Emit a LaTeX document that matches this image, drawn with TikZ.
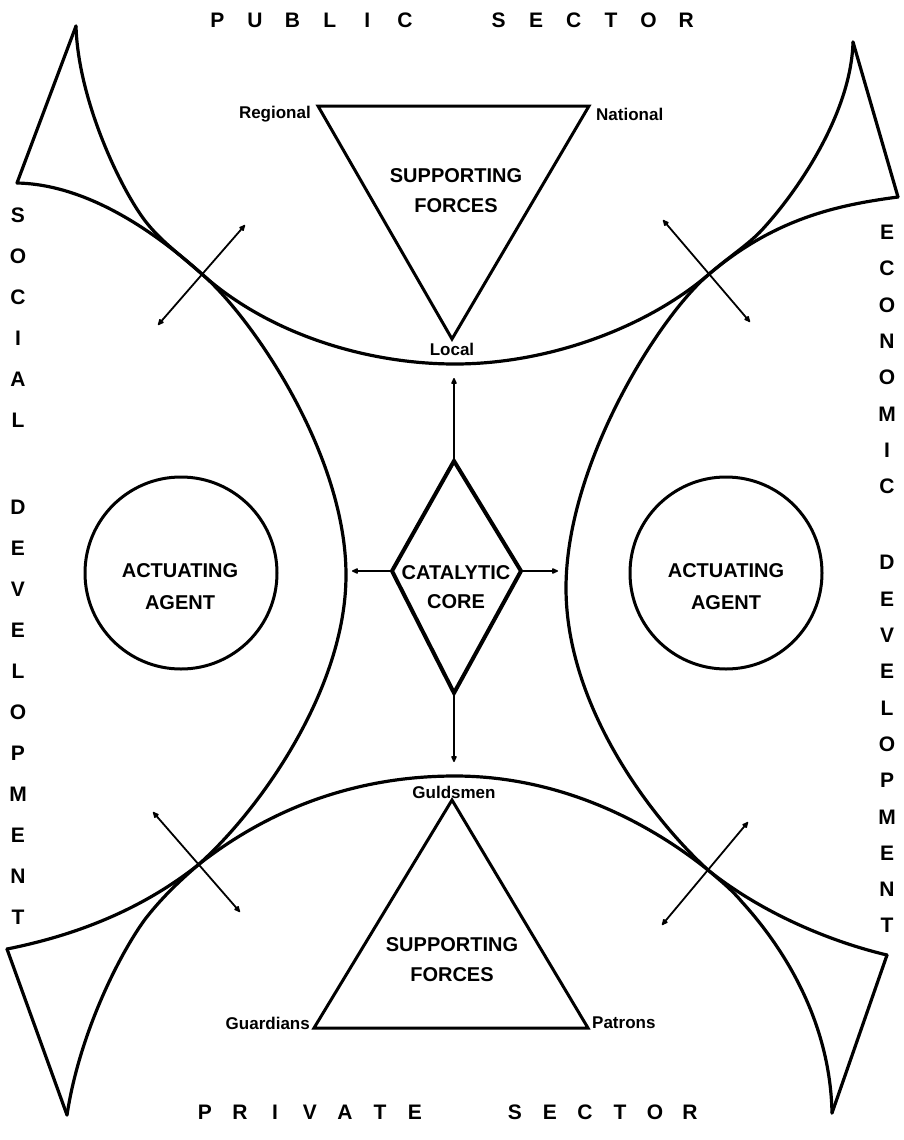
\documentclass[tikz,border=0pt]{standalone}
\usepackage{fontspec}
\setmainfont{Liberation Sans}
\usetikzlibrary{arrows.meta}
\newlength\letw
\newcommand\lbx[1]{\makebox[\letw]{#1}}
\begin{document}
\begin{tikzpicture}[x=1pt,y=-1pt,
  mytip/.tip={Latex[length=8pt,width=7pt,round]},
  curve/.style={line width=3.2pt,line cap=round,line join=round},
  tri/.style={line width=3pt,line join=miter},
  dia/.style={line width=4pt,line join=miter},
  ring/.style={circle,draw,line width=3pt,minimum size=192pt,inner sep=0pt},
  dbl/.style={line width=1.8pt,{mytip}-{mytip}},
  one/.style={line width=1.8pt,-{mytip}},
  caps/.style={font=\fontsize{20}{30}\selectfont\bfseries,align=center,inner sep=0pt},
  small/.style={font=\fontsize{17}{17}\selectfont\bfseries,inner sep=0pt},
  hdr/.style={font=\fontsize{21}{21}\selectfont\bfseries,inner sep=0pt},
  vert/.style={align=center,inner sep=0pt},
]
\useasboundingbox (0,0) rectangle (903,1140);
\fill[white] (0,0) rectangle (903,1140);

% ---- key points of the four sweeping curves
\coordinate (ATL) at (76,26);
\coordinate (ETL) at (17,183);
\coordinate (CTL) at (203,275);
\coordinate (ML)  at (346,575);
\coordinate (CBL) at (198,865);
\coordinate (ABL) at (67,1115);
\coordinate (EBL) at (7,949);
\coordinate (BT)  at (455,364);
\coordinate (ATR) at (853,42);
\coordinate (ETR) at (898,197);
\coordinate (CTR) at (708,275);
\coordinate (MR)  at (566,588);
\coordinate (CBR) at (708,870);
\coordinate (ABR) at (832,1113);
\coordinate (EBR) at (887,955);
\coordinate (BB)  at (455,776);

% left curve
\draw[curve] (ATL) .. controls (78,100) and (121,190) .. (146,222)
  .. controls (161,241) and (178,253) .. (CTL)
  .. controls (253,319) and (346,455) .. (ML)
  .. controls (346,690) and (258,812) .. (CBL)
  .. controls (176,884) and (161,899) .. (146,918)
  .. controls (122,950) and (80,1030) .. (ABL);
% right curve
\draw[curve] (ATR) .. controls (851,115) and (795,195) .. (760,232)
  .. controls (745,247) and (730,256) .. (CTR)
  .. controls (658,318) and (566,465) .. (MR)
  .. controls (566,705) and (650,817) .. (CBR)
  .. controls (722,882) and (732,890) .. (742,902)
  .. controls (772,935) and (830,1010) .. (ABR);
% top curve
\draw[curve] (ETL) .. controls (70,184) and (133,212) .. (CTL)
  .. controls (268,333) and (365,364) .. (BT)
  .. controls (545,364) and (643,330) .. (CTR)
  .. controls (775,218) and (838,205) .. (ETR);
% bottom curve
\draw[curve] (EBL) .. controls (67,937) and (136,914) .. (CBL)
  .. controls (273,806) and (360,776) .. (BB)
  .. controls (550,776) and (638,814) .. (CBR)
  .. controls (763,914) and (832,942) .. (EBR);
% straight corner edges
\draw[curve] (ATL) -- (ETL);
\draw[curve] (ATR) -- (ETR);
\draw[curve] (EBL) -- (ABL);
\draw[curve] (EBR) -- (ABR);

% ---- crossing arrows
\coordinate (tlA) at (158,325); \coordinate (tlB) at (245,225);
\coordinate (trA) at (663,220); \coordinate (trB) at (750,322);
\coordinate (blA) at (153,812); \coordinate (blB) at (240,912);
\coordinate (brA) at (748,822); \coordinate (brB) at (662,925);
\draw[dbl] (tlA) -- (tlB);
\draw[dbl] (trA) -- (trB);
\draw[dbl] (blA) -- (blB);
\draw[dbl] (brA) -- (brB);

% ---- supporting forces triangles
\coordinate (tR) at (318,106); \coordinate (tN) at (589,106); \coordinate (tL) at (452,339);
\draw[tri] (tR) -- (tN) -- (tL) -- cycle;
\coordinate (bG) at (452,800); \coordinate (bU) at (314,1028); \coordinate (bP) at (588,1028);
\draw[tri] (bG) -- (bP) -- (bU) -- cycle;
\node[caps] (sfT) at (456,191) {SUPPORTING\\FORCES};
\node[caps] (sfB) at (452,960) {SUPPORTING\\FORCES};
\node[small,anchor=east] (reg) at (311,114) {Regional};
\node[small,anchor=west] (nat) at (596,114) {National};
\node[small] (loc) at (452,349) {Local};
\node[small] (gul) at (454,792) {Guldsmen};
\node[small,anchor=east] (gua) at (310,1023) {Guardians};
\node[small,anchor=west] (pat) at (592,1023) {Patrons};

% ---- actuating agents
\node[ring] (agL) at (181,573) {};
\node[ring] (agR) at (726,573) {};
\node[caps,font=\fontsize{20}{32}\selectfont\bfseries] (agLt) at (180,587) {ACTUATING\\AGENT};
\node[caps,font=\fontsize{20}{32}\selectfont\bfseries] (agRt) at (726,587) {ACTUATING\\AGENT};

% ---- catalytic core
\coordinate (dT) at (454,461); \coordinate (dR) at (521,571);
\coordinate (dB) at (454,693); \coordinate (dL) at (392,571);
\draw[dia] (dT) -- (dR) -- (dB) -- (dL) -- cycle;
\node[caps,font=\fontsize{20}{29}\selectfont\bfseries] (cc) at (456,587) {CATALYTIC\\CORE};
\coordinate (upT) at (454,378); \coordinate (dnT) at (454,762);
\coordinate (ltT) at (352,571); \coordinate (rtT) at (558,571);
\draw[one] (dT) -- (upT);
\draw[one] (dB) -- (dnT);
\draw[one] (dL) -- (ltT);
\draw[one] (dR) -- (rtT);

% ---- sector headers
\node[hdr] (pub) at (451.75,20) {\setlength\letw{37.5pt}\lbx{P}\lbx{U}\lbx{B}\lbx{L}\lbx{I}\lbx{C}\hspace{56.25pt}\lbx{S}\lbx{E}\lbx{C}\lbx{T}\lbx{O}\lbx{R}};
\node[hdr] (pri) at (447.5,1112) {\setlength\letw{35pt}\lbx{P}\lbx{R}\lbx{I}\lbx{V}\lbx{A}\lbx{T}\lbx{E}\hspace{65pt}\lbx{S}\lbx{E}\lbx{C}\lbx{T}\lbx{O}\lbx{R}};

% ---- development columns
\node[vert,font=\fontsize{21}{41}\selectfont\bfseries] (soc) at (18,566.5)
  {S\\O\\C\\I\\A\\L\\[46pt]D\\E\\V\\E\\L\\O\\P\\M\\E\\N\\T};
\node[vert,font=\fontsize{21}{36.3}\selectfont\bfseries] (eco) at (887,579)
  {E\\C\\O\\N\\O\\M\\I\\C\\[40pt]D\\E\\V\\E\\L\\O\\P\\M\\E\\N\\T};
\end{tikzpicture}
\end{document}
